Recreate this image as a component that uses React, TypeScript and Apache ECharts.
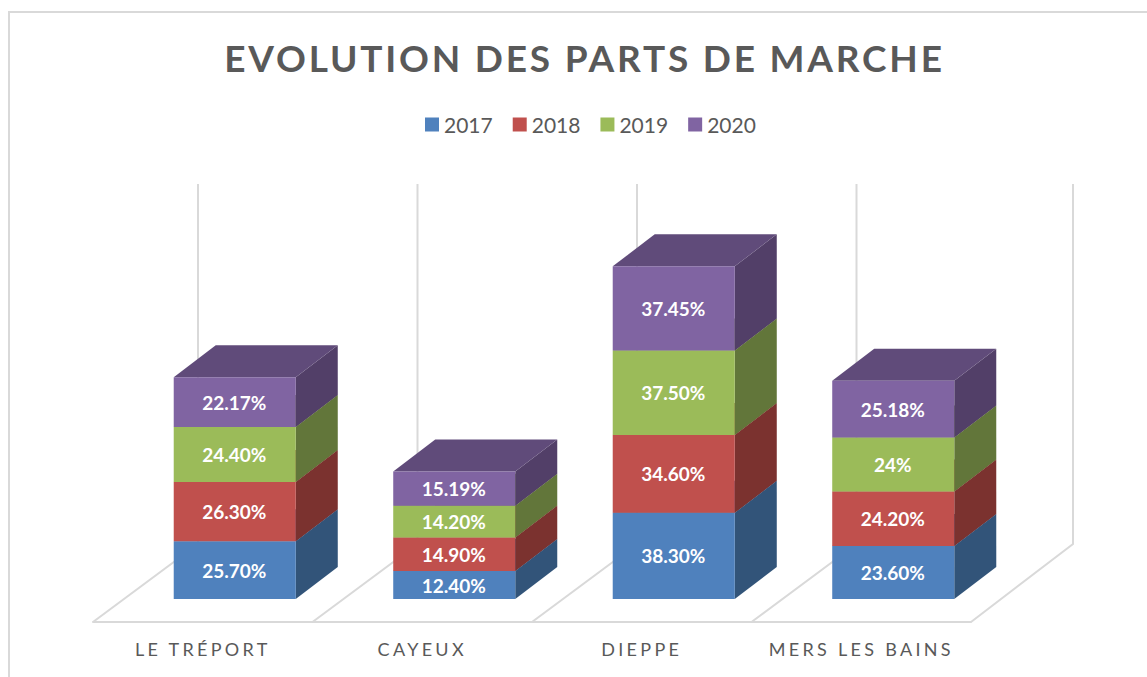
import React, { useEffect, useRef } from "react";
import * as echarts from "echarts";

const categories = ["LE TRÉPORT", "CAYEUX", "DIEPPE", "MERS LES BAINS"];
const years = ["2017", "2018", "2019", "2020"];
const values2017 = [25.7, 12.4, 38.3, 23.6];
const values2018 = [26.3, 14.9, 34.6, 24.2];
const values2019 = [24.4, 14.2, 37.5, 24];
const values2020 = [22.17, 15.19, 37.45, 25.18];
const labels2017 = ["25.70%", "12.40%", "38.30%", "23.60%"];
const labels2018 = ["26.30%", "14.90%", "34.60%", "24.20%"];
const labels2019 = ["24.40%", "14.20%", "37.50%", "24%"];
const labels2020 = ["22.17%", "15.19%", "37.45%", "25.18%"];
const frontColors = ["#4F81BD", "#C0504D", "#9BBB59", "#8064A2"];
const sideColors = ["#325479", "#7B322F", "#62763A", "#523F68"];
const topColors = ["#3A6190", "#8E3A38", "#6F8540", "#604B7A"];

const allValues = [values2017, values2018, values2019, values2020];
const allLabels = [labels2017, labels2018, labels2019, labels2020];
const FONT = "Lato, Carlito, 'Open Sans', sans-serif";
const AXIS_MAX = 160;

const TITLE = "EVOLUTION DES PARTS DE MARCHE";

function applySpacing(root: HTMLElement) {
  root.querySelectorAll("text").forEach((t) => {
    const s = t.textContent || "";
    if (s === TITLE) t.setAttribute("letter-spacing", "2.8");
    else if (categories.includes(s)) t.setAttribute("letter-spacing", "3.3");
  });
}

function barSeries(k: number) {
  let data = categories.map((_, i) => {
    let base = 0;
    for (let j = 0; j < k; j++) base += allValues[j][i];
    return [i, base, allValues[k][i]];
  });
  return {
    type: "custom",
    name: years[k],
    itemStyle: { color: frontColors[k] },
    encode: { x: 0, y: 1 },
    data,
    z: 3 + k,
    renderItem: (_p: any, api: any) => {
      const i = api.value(0);
      const base = api.value(1);
      const v = api.value(2);
      const band = api.size([1, 0])[0];
      const c0 = api.coord([i, base]);
      const c1 = api.coord([i, base + v]);
      const w = band * 0.556;
      const ox = 32;
      const oy = -23;
      const dx = 42;
      const dy = -32;
      const l = c0[0] + ox - w / 2;
      const r = l + w;
      const b = c0[1] + oy;
      const t = c1[1] + oy;
      return {
        type: "group",
        children: [
          {
            type: "polygon",
            shape: { points: [[r, b], [r + dx, b + dy], [r + dx, t + dy], [r, t]] },
            style: { fill: sideColors[k] },
          },
          {
            type: "polygon",
            shape: { points: [[l, t], [r, t], [r + dx, t + dy], [l + dx, t + dy]] },
            style: { fill: topColors[k] },
          },
          {
            type: "rect",
            shape: { x: l, y: t, width: w, height: b - t },
            style: { fill: frontColors[k] },
          },
          {
            type: "text",
            style: {
              text: allLabels[k][i],
              x: (l + r) / 2 - 0.5,
              y: (b + t) / 2,
              fill: "#FFFFFF",
              fontFamily: FONT,
              fontWeight: "bold",
              fontSize: 19,
              align: "center",
              verticalAlign: "middle",
            },
          },
        ],
      };
    },
  };
}

const floorSeries = {
  type: "custom",
  name: "floor",
  silent: true,
  encode: { x: 0, y: 1 },
  data: categories.map((_, i) => [i, 0]),
  z: 1,
  renderItem: (_p: any, api: any) => {
    const i = api.value(0);
    const band = api.size([1, 0])[0];
    const c0 = api.coord([i, 0]);
    const cTop = api.coord([i, AXIS_MAX]);
    const dy = -78;
    const stroke = { stroke: "#D9D9D9", lineWidth: 2, fill: "none" };
    const wall = (x: number, dx: number) => ({
      type: "polyline",
      shape: { points: [[x, c0[1]], [x + dx, c0[1] + dy], [x + dx, cTop[1] + dy]] },
      style: stroke,
    });
    const children = [wall(c0[0] - band / 2, 105)];
    if (i === categories.length - 1) children.push(wall(c0[0] + band / 2, 102));
    return { type: "group", children };
  },
};

export default function App() {
  const ref = useRef<HTMLDivElement>(null);
  useEffect(() => {
    const chart = echarts.init(ref.current!, undefined, { renderer: "svg" });
    chart.setOption({
      animation: false,
      backgroundColor: "#FFFFFF",
      title: {
        text: TITLE,
        left: 579.5,
        top: 34,
        textAlign: "center",
        textStyle: { fontFamily: FONT, fontWeight: "bold", fontSize: 37, color: "#595959" },
      },
      legend: {
        data: years,
        left: 420,
        top: 109,
        icon: "rect",
        itemWidth: 14,
        itemHeight: 14,
        itemGap: 20,
        textStyle: { fontFamily: FONT, fontSize: 21, color: "#595959" },
      },
      grid: { left: 93, right: 176, top: 262, bottom: 55 },
      xAxis: {
        type: "category",
        data: categories,
        axisLine: { lineStyle: { color: "#D9D9D9", width: 2 } },
        axisTick: { show: false },
        axisLabel: { fontFamily: FONT, fontSize: 18, color: "#595959", margin: 18 },
      },
      yAxis: { type: "value", min: 0, max: AXIS_MAX, show: false, splitLine: { show: false } },
      graphic: [
        {
          type: "rect",
          silent: true,
          shape: { x: 9, y: 12, width: 1300, height: 800 },
          style: { fill: "none", stroke: "#D9D9D9", lineWidth: 2 },
        },
      ],
      series: [floorSeries, ...years.map((_, k) => barSeries(k))],
    });
    const root = ref.current!;
    applySpacing(root);
    chart.on("finished", () => applySpacing(root));
    return () => chart.dispose();
  }, []);
  return <div ref={ref} style={{ position: "fixed", left: 0, top: 0, width: 1147, height: 677 }} />;
}
